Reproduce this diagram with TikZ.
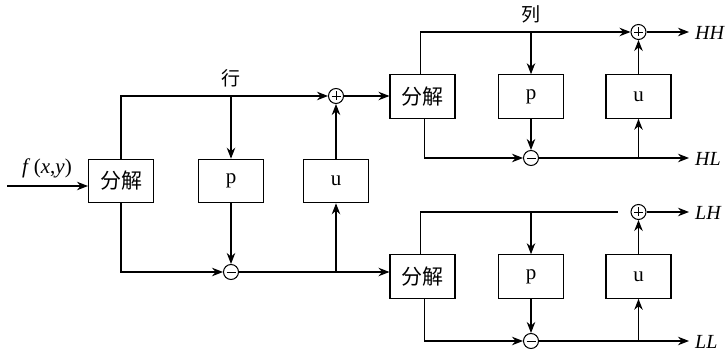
\documentclass[tikz,border=0pt]{standalone}
\usepackage{fontspec}
\setmainfont{Liberation Serif}
\newfontfamily\cjk{Noto Sans CJK SC}
\usetikzlibrary{arrows.meta,calc}
\tikzset{
  box/.style={draw,line width=1.1pt,minimum width=65pt,minimum height=43.5pt,inner sep=0pt,font=\fontsize{21}{21}\selectfont},
  opc/.style={draw,circle,line width=1pt,minimum size=15pt,inner sep=0pt},
  ln/.style={line width=1.1pt},
  arr/.style={ln,-{Stealth[length=11pt,width=8.5pt]}},
  lbl/.style={font=\fontsize{20}{20}\selectfont\itshape,anchor=west,inner sep=0pt},
  cl/.style={font=\cjk\fontsize{19}{19}\selectfont,inner sep=0pt}
}
\newcommand{\plusmark}[1]{\draw[line width=0.7pt] ($(#1)+(-4.5,0)$) -- ($(#1)+(4.5,0)$) ($(#1)+(0,-4.5)$) -- ($(#1)+(0,4.5)$);}
\newcommand{\minusmark}[1]{\draw[line width=0.7pt] ($(#1)+(-4.5,0)$) -- ($(#1)+(4.5,0)$);}
\begin{document}
\begin{tikzpicture}[x=1pt,y=-1pt]
\useasboundingbox (0,0) rectangle (726,352);
% stage 1
\node[box] (d1) at (121,181) {\cjk 分解};
\node[box] (p1) at (231,181) {p};
\node[box] (u1) at (336,181) {u};
\node[opc] (plus1) at (336,96) {};
\node[opc] (minus1) at (231,272) {};
\plusmark{plus1}\minusmark{minus1}
\coordinate (in) at (7,186);
\draw[arr] (in) -- (in -| d1.west);
\node[inner sep=0pt,font=\fontsize{21}{21}\selectfont] at (47,168) {\textit{f}\,(\textit{x},\textit{y})};
\draw[arr] (d1.north) |- (plus1.west);
\draw[arr] (p1.north |- plus1) -- (p1.north);
\node[cl] at (231,78) {行};
\draw[arr] (u1.north) -- (plus1.south);
\draw[arr] (d1.south) |- (minus1.west);
\draw[arr] (p1.south) -- (minus1.north);
\draw[arr] (u1.south |- minus1) -- (u1.south);
% stage 2 (upper)
\node[box] (d2) at (422.5,96.5) {\cjk 分解};
\node[box] (p2) at (531,96.5) {p};
\node[box] (u2) at (638.5,96.5) {u};
\node[opc] (plus2) at (638.5,32) {};
\node[opc] (minus2) at (531,158) {};
\plusmark{plus2}\minusmark{minus2}
\draw[arr] (plus1.east) -- (plus1 -| d2.west);
\draw[arr] ([xshift=-2pt]d2.north) |- (plus2.west);
\draw[arr] (p2.north |- plus2) -- (p2.north);
\node[cl] at (531,14) {列};
\draw[arr] (u2.north) -- (plus2.south);
\draw[arr] ([xshift=2pt]d2.south) |- (minus2.west);
\draw[arr] (p2.south) -- (minus2.north);
\draw[arr] (u2.south |- minus2) -- (u2.south);
\coordinate (oHH) at (689,32);
\coordinate (oHL) at (689,158);
\draw[arr] (plus2.east) -- (oHH);
\draw[arr] (minus2.east) -- (oHL);
\node[lbl] at (695,33) {HH};
\node[lbl] at (695,159) {HL};
% stage 3 (lower)
\node[box] (d3) at (422.5,276.5) {\cjk 分解};
\node[box] (p3) at (531,276.5) {p};
\node[box] (u3) at (638.5,276.5) {u};
\node[opc] (plus3) at (638.5,212) {};
\node[opc] (minus3) at (531,341) {};
\plusmark{plus3}\minusmark{minus3}
\draw[arr] (minus1.east) -- (minus1 -| d3.west);
\coordinate (gap) at (618,212);
\draw[ln] ([xshift=-2pt]d3.north) |- (gap);
\draw[arr] (p3.north |- gap) -- (p3.north);
\draw[arr] (u3.north) -- (plus3.south);
\draw[arr] ([xshift=2pt]d3.south) |- (minus3.west);
\draw[arr] (p3.south) -- (minus3.north);
\draw[arr] (u3.south |- minus3) -- (u3.south);
\coordinate (oLH) at (689,212);
\coordinate (oLL) at (689,341);
\draw[arr] (plus3.east) -- (oLH);
\draw[arr] (minus3.east) -- (oLL);
\node[lbl] at (695,213) {LH};
\node[lbl] at (695,342) {LL};
\end{tikzpicture}
\end{document}
